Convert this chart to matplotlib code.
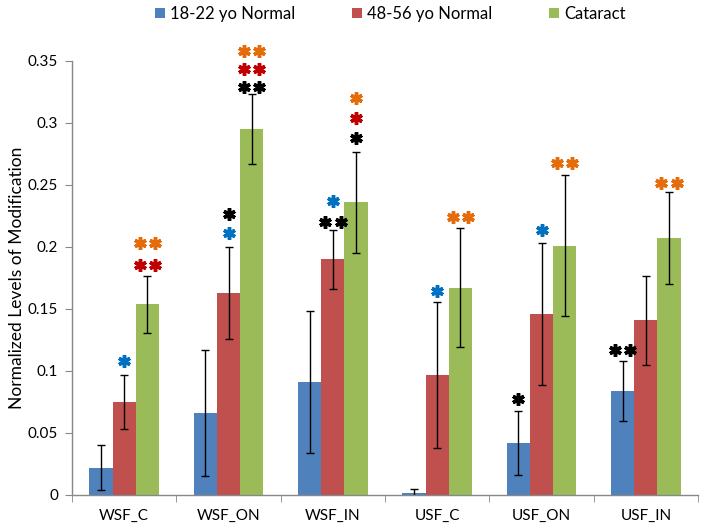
import matplotlib
matplotlib.use("Agg")
import matplotlib.pyplot as plt
import numpy as np
from matplotlib.transforms import offset_copy

plt.rcParams['font.family'] = ['Lato', 'DejaVu Sans']

categories = ["WSF_C", "WSF_ON", "WSF_IN", "USF_C", "USF_ON", "USF_IN"]
series_names = ["18-22 yo Normal", "48-56 yo Normal", "Cataract"]
young = [0.022, 0.066, 0.091, 0.002, 0.042, 0.084]
older = [0.075, 0.163, 0.190, 0.097, 0.146, 0.141]
cataract = [0.154, 0.295, 0.236, 0.167, 0.201, 0.207]
young_err = [0.018, 0.051, 0.057, 0.003, 0.026, 0.024]
older_err = [0.022, 0.037, 0.024, 0.059, 0.057, 0.036]
cataract_err = [0.023, 0.028, 0.041, 0.048, 0.057, 0.037]
yticks = [0, 0.05, 0.1, 0.15, 0.2, 0.25, 0.3, 0.35]
ytick_labels = ["0", "0.05", "0.1", "0.15", "0.2", "0.25", "0.3", "0.35"]

# significance marks: (category index, series index, label, colour key, value)
star_groups = [0, 0, 0, 1, 1, 1, 1, 1, 2, 2, 2, 2, 2, 3, 3, 4, 4, 4, 5, 5]
star_series = [1, 2, 2, 1, 1, 2, 2, 2, 1, 1, 2, 2, 2, 1, 2, 0, 1, 2, 0, 2]
star_labels = ["*", "**", "**", "*", "*", "**", "**", "**", "*", "**", "*", "*", "*",
               "*", "**", "*", "*", "**", "**", "**"]
star_colors = ["blue", "red", "orange", "black", "blue", "black", "red", "orange",
               "blue", "black", "black", "red", "orange", "blue", "orange",
               "black", "blue", "orange", "black", "orange"]
star_values = [0.108, 0.1855, 0.2035, 0.2264, 0.211, 0.3288, 0.3433, 0.358,
               0.237, 0.2204, 0.2877, 0.3038, 0.320, 0.1643, 0.2244,
               0.0774, 0.2137, 0.2675, 0.117, 0.2519]

bar_colors = ["#4F81BD", "#C0504D", "#9BBB59"]
mark_colors = {"blue": "#0070C0", "red": "#C00000", "orange": "#E46C0A", "black": "#000000"}

fig = plt.figure(figsize=(7.06, 5.31), dpi=100)
ax = fig.add_axes([72 / 706, 1 - 495 / 531, 626 / 706, (495 - 61) / 531])

x = np.arange(len(categories))
w = 0.222
vals = [young, older, cataract]
errs = [young_err, older_err, cataract_err]
for i in range(3):
    ax.bar(x + (i - 1) * w, vals[i], w, color=bar_colors[i], label=series_names[i],
           yerr=errs[i], error_kw=dict(ecolor="black", elinewidth=1.0, capsize=2.7, capthick=1.0),
           zorder=2)

for g, s, lab, c, v in zip(star_groups, star_series, star_labels, star_colors, star_values):
    xc = g + (s - 1) * w
    n = len(lab)
    for k in range(n):
        dx = (k - (n - 1) / 2) * 15.5
        tr = offset_copy(ax.transData, fig=fig, x=dx, y=0, units='dots')
        ax.plot([xc], [v], marker=(6, 2, 0), markersize=9, markeredgewidth=2.5,
                color=mark_colors[c], transform=tr, clip_on=False, zorder=5)

ax.set_xlim(-0.5, len(categories) - 0.5)
ax.set_ylim(0, 0.35)
ax.set_yticks(yticks)
ax.set_yticklabels(ytick_labels, fontsize=11)
ax.set_xticks(x)
ax.set_xticklabels(categories, fontsize=11)
ax.tick_params(axis='x', length=0, pad=10)
ax.set_xticks(np.arange(len(categories) + 1) - 0.5, minor=True)
ax.tick_params(axis='x', which='minor', length=5, color="#888888", direction='out')
ax.tick_params(axis='y', length=5, color="#888888", direction='out', pad=5)
for sp in ["top", "right"]:
    ax.spines[sp].set_visible(False)
for sp in ["left", "bottom"]:
    ax.spines[sp].set_color("#888888")
    ax.spines[sp].set_linewidth(1.0)

ax.set_ylabel("Normalized Levels of Modification", fontsize=12.5)
ax.yaxis.set_label_coords(-47 / 626, 0.5)

fig.legend(loc="center left", bbox_to_anchor=(140 / 706, 1 - 14 / 531), ncol=3, frameon=False,
           fontsize=12, handlelength=0.6, handleheight=0.6, columnspacing=3.4, handletextpad=0.3)

fig.savefig("out.png", dpi=100)
